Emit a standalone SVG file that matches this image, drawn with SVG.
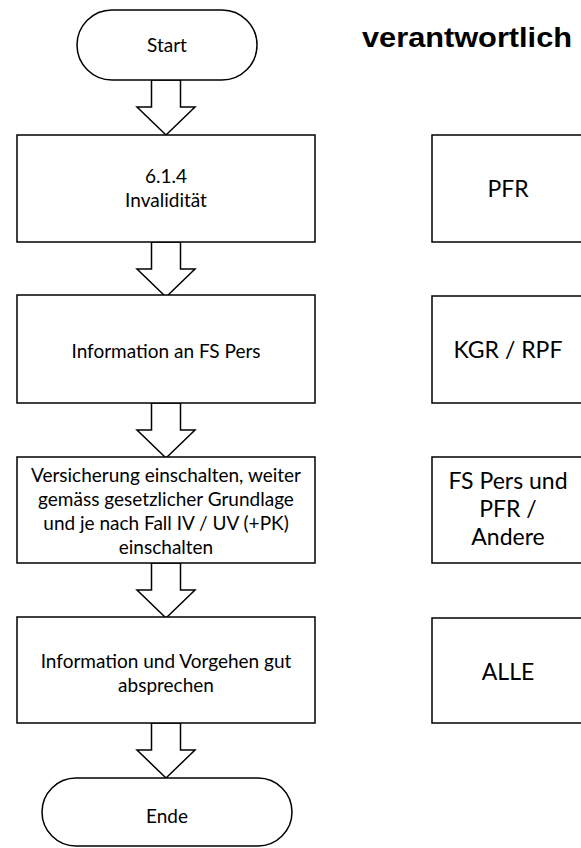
<svg xmlns="http://www.w3.org/2000/svg" width="581" height="848" viewBox="0 0 581 848">
  <style>
    .shape { fill: #ffffff; stroke: #000000; stroke-width: 1.5; }
    .label { font-family: Lato, "Open Sans", "Liberation Sans", sans-serif; font-size: 19px; fill: #000000; text-anchor: middle; }
    .role { font-family: Lato, "Open Sans", "Liberation Sans", sans-serif; font-size: 23px; fill: #000000; text-anchor: middle; }
    .title { font-family: "Liberation Sans", Arial, sans-serif; font-size: 28px; font-weight: bold; fill: #000000; }
  </style>
  <defs>
    <!-- block arrow: shaft 29 wide, head 58 wide, origin at shaft top centre -->
    <path id="blockArrow" class="shape" d="M -14.5 0 L 14.5 0 L 14.5 27 L 29 27 L 0 55 L -29 27 L -14.5 27 Z"/>
  </defs>
  <rect width="581" height="848" fill="#ffffff"/>

  <text class="title" x="362" y="47" textLength="210" lengthAdjust="spacingAndGlyphs">verantwortlich</text>

  <g id="connectors">
    <use href="#blockArrow" x="166" y="80"/>
    <use href="#blockArrow" x="166" y="242"/>
    <use href="#blockArrow" x="166" y="403"/>
    <use href="#blockArrow" x="166" y="563"/>
    <use href="#blockArrow" x="166" y="723"/>
  </g>

  <g id="start">
    <rect class="shape" x="77" y="10" width="180" height="70" rx="35" ry="35"/>
    <text class="label" x="167" y="52">Start</text>
  </g>

  <g id="step1">
    <rect class="shape" x="17" y="135" width="298" height="107"/>
    <text class="label" x="166" y="183">6.1.4</text>
    <text class="label" x="166" y="207">Invalidität</text>
  </g>

  <g id="step2">
    <rect class="shape" x="17" y="295" width="298" height="108"/>
    <text class="label" x="166" y="358">Information an FS Pers</text>
  </g>

  <g id="step3">
    <rect class="shape" x="17" y="457" width="298" height="106"/>
    <text class="label" x="166" y="482">Versicherung einschalten, weiter</text>
    <text class="label" x="166" y="506">gemäss gesetzlicher Grundlage</text>
    <text class="label" x="166" y="530">und je nach Fall IV / UV (+PK)</text>
    <text class="label" x="166" y="554">einschalten</text>
  </g>

  <g id="step4">
    <rect class="shape" x="17" y="617" width="298" height="106"/>
    <text class="label" x="166" y="668">Information und Vorgehen gut</text>
    <text class="label" x="166" y="692">absprechen</text>
  </g>

  <g id="ende">
    <rect class="shape" x="42" y="778" width="250" height="68" rx="34" ry="34"/>
    <text class="label" x="167" y="823">Ende</text>
  </g>

  <g id="role1">
    <rect class="shape" x="432" y="135" width="152" height="107"/>
    <text class="role" x="508" y="197">PFR</text>
  </g>

  <g id="role2">
    <rect class="shape" x="432" y="296" width="152" height="107"/>
    <text class="role" x="508" y="358">KGR / RPF</text>
  </g>

  <g id="role3">
    <rect class="shape" x="432" y="457" width="152" height="106"/>
    <text class="role" x="508" y="489">FS Pers und</text>
    <text class="role" x="508" y="517">PFR /</text>
    <text class="role" x="508" y="545">Andere</text>
  </g>

  <g id="role4">
    <rect class="shape" x="432" y="618" width="152" height="105"/>
    <text class="role" x="508" y="680">ALLE</text>
  </g>
</svg>
